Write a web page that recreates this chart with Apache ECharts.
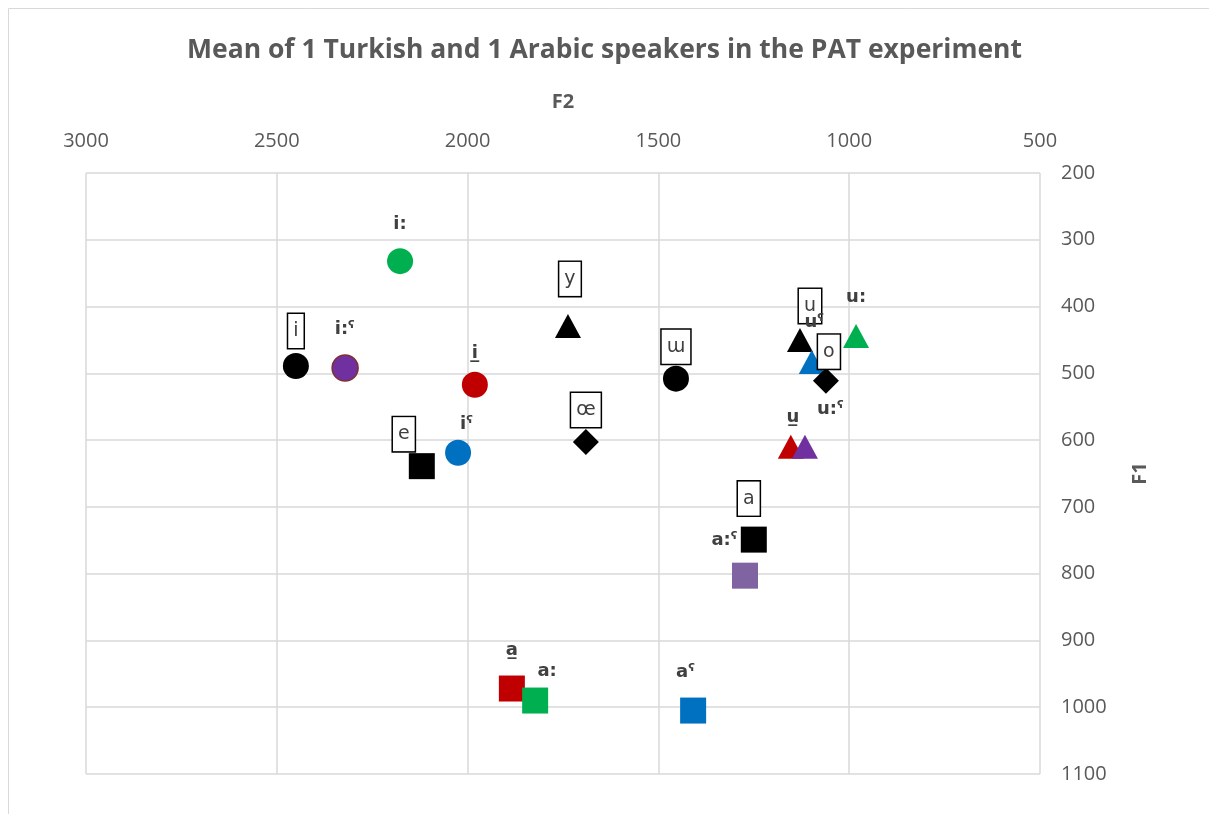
<!DOCTYPE html>
<html>
<head>
<meta charset="utf-8">
<script src="https://cdn.jsdelivr.net/npm/echarts@6/dist/echarts.min.js"></script>
<style>
    html, body {margin: 0; padding: 0; background: #fff;}
    #chart {width: 1209px; height: 814px;}
</style>
</head>
<body>
<div id="chart"></div>
<script>
    // vowel labels, F2 and F1 means (Hz)
    const vowels = ['i', 'i:ˤ', 'i:', 'i\u0332', 'iˤ', 'e', 'y', 'œ', 'ɯ', 'u', 'uˤ', 'u:', 'o', 'u\u0332', 'u:ˤ', 'a', 'a:ˤ', 'a\u0332', 'a:', 'aˤ']
    const f2 = [2450, 2321, 2177, 1981, 2025, 2120, 1737, 1690, 1454, 1129, 1098, 982, 1061, 1153, 1116, 1250, 1273, 1884, 1823, 1409]
    const f1 = [489, 492, 332, 517, 619, 639, 429, 603, 508, 450, 483, 444, 511, 610, 610, 749, 803, 972, 990, 1005]
    // Turkish vowels get a boxed label
    const turkish = ['i', 'e', 'y', 'œ', 'ɯ', 'u', 'o', 'a']
    const xTicks = [500, 1000, 1500, 2000, 2500, 3000]
    const yTicks = [200, 300, 400, 500, 600, 700, 800, 900, 1000, 1100]

    // marker look per vowel: [symbol, colour, label offset from marker centre]
    const look = {
        'i': ['circle', '#000000', [0, -35]],
        'i:ˤ': ['circle', '#7030A0', [0, -38]],
        'i:': ['circle', '#00B050', [0, -37]],
        'i\u0332': ['circle', '#C00000', [0, -31]],
        'iˤ': ['circle', '#0070C0', [8, -28]],
        'e': ['rect', '#000000', [-18, -32]],
        'y': ['triangle', '#000000', [2, -47]],
        'œ': ['diamond', '#000000', [0, -32]],
        'ɯ': ['circle', '#000000', [0, -32]],
        'u': ['triangle', '#000000', [10, -34]],
        'uˤ': ['triangle', '#0070C0', [2, -40]],
        'u:': ['triangle', '#00B050', [0, -39]],
        'o': ['diamond', '#000000', [3, -29]],
        'u\u0332': ['triangle', '#C00000', [2, -29]],
        'u:ˤ': ['triangle', '#7030A0', [25, -37]],
        'a': ['rect', '#000000', [-5, -41]],
        'a:ˤ': ['rect', '#8064A2', [-21, -35]],
        'a\u0332': ['rect', '#C00000', [0, -38]],
        'a:': ['rect', '#00B050', [12, -29]],
        'aˤ': ['rect', '#0070C0', [-8, -38]]
    }

    const points = vowels.map((v, i) => {
        const [sym, col, off] = look[v]
        const boxed = turkish.indexOf(v) >= 0
        const size = sym === 'triangle' ? [26, 24] : [26, 26]
        return {
            value: [f2[i], f1[i]],
            symbol: sym,
            symbolSize: size,
            itemStyle: {
                color: col,
                opacity: 1,
                borderColor: v === 'i:ˤ' ? '#7F3030' : col,
                borderWidth: v === 'i:ˤ' ? 1.5 : 0
            },
            label: {
                show: true,
                position: [size[0] / 2 + off[0], size[1] / 2 + off[1]],
                align: 'center',
                verticalAlign: 'middle',
                formatter: v,
                fontFamily: '"DejaVu Sans", "Noto Sans", sans-serif',
                fontSize: boxed ? 19 : 18,
                fontWeight: boxed ? 'normal' : 'bold',
                color: '#404040',
                backgroundColor: boxed ? '#ffffff' : 'transparent',
                borderColor: boxed ? '#000000' : 'transparent',
                borderWidth: boxed ? 1.5 : 0,
                padding: boxed ? [8, 5, 7, 5] : 0
            }
        }
    })

    const chartInstance = echarts.init(document.getElementById('chart'))
    chartInstance.setOption({
        backgroundColor: '#ffffff',
        animation: false,
        title: {
            text: 'Mean of 1 Turkish and 1 Arabic speakers in the PAT experiment',
            left: 'center',
            top: 32,
            textStyle: {
                color: '#595959',
                fontSize: 26.5,
                fontWeight: 'bold',
                fontFamily: '"Open Sans", sans-serif'
            }
        },
        graphic: [{
            type: 'rect',
            shape: {x: 8.5, y: 8.5, width: 1230, height: 830},
            style: {fill: 'none', stroke: '#d9d9d9', lineWidth: 1},
            silent: true
        }],
        grid: {left: 86, right: 169, top: 173, bottom: 40},
        xAxis: {
            type: 'value',
            position: 'top',
            inverse: true,
            min: xTicks[0],
            max: xTicks[xTicks.length - 1],
            interval: 500,
            name: 'F2',
            nameLocation: 'middle',
            nameGap: 61,
            nameTextStyle: {color: '#595959', fontSize: 20, fontWeight: 'bold', fontFamily: '"Open Sans", sans-serif'},
            axisLine: {show: false},
            axisTick: {show: false},
            axisLabel: {color: '#595959', fontSize: 20, margin: 22, fontFamily: '"Open Sans", sans-serif', formatter: (v) => String(v)},
            splitLine: {show: true, lineStyle: {color: '#d9d9d9', width: 1.5}}
        },
        yAxis: {
            type: 'value',
            position: 'right',
            inverse: true,
            min: yTicks[0],
            max: yTicks[yTicks.length - 1],
            interval: 100,
            name: 'F1',
            nameLocation: 'middle',
            nameGap: 90,
            nameTextStyle: {color: '#595959', fontSize: 20, fontWeight: 'bold', fontFamily: '"Open Sans", sans-serif'},
            axisLine: {show: false},
            axisTick: {show: false},
            axisLabel: {color: '#595959', fontSize: 20, margin: 21, fontFamily: '"Open Sans", sans-serif', formatter: (v) => String(v)},
            splitLine: {show: true, lineStyle: {color: '#d9d9d9', width: 1.5}}
        },
        series: [{
            type: 'scatter',
            data: points,
            labelLayout: {hideOverlap: false}
        }]
    })
</script>
</body>
</html>
